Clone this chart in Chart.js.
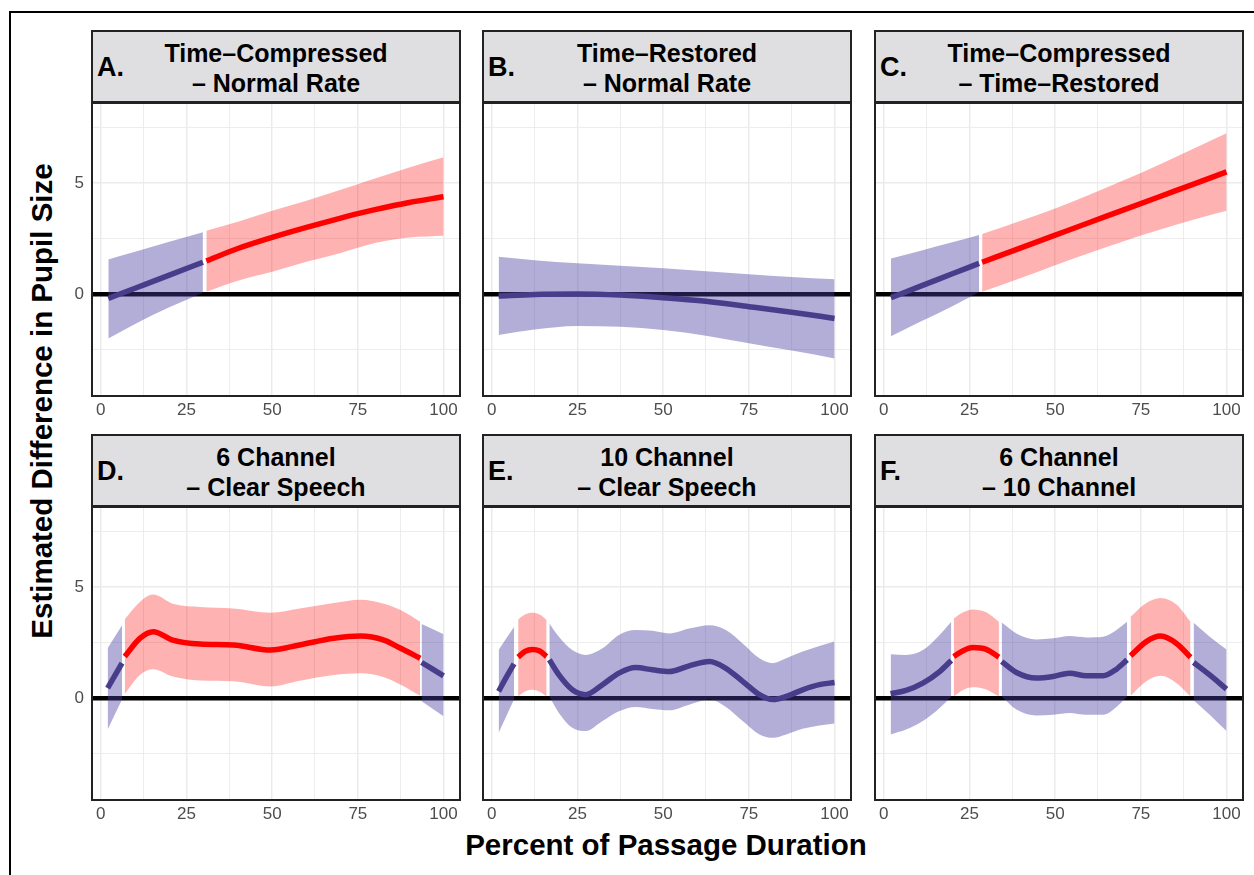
<!DOCTYPE html>
<html>
<head>
<meta charset="utf-8">
<title>Estimated Difference in Pupil Size</title>
<script src="https://cdn.jsdelivr.net/npm/chart.js@4.4.1/dist/chart.umd.min.js"></script>
<style>
  html, body { margin: 0; padding: 0; background: #fff; }
  body { width: 1254px; height: 875px; position: relative; overflow: hidden; font-family: "Liberation Sans", Arial, Helvetica, sans-serif; }
  #frame { position: absolute; left: 9px; top: 11px; width: 1300px; height: 900px; border-left: 2.5px solid #000; border-top: 2.5px solid #000; }
  .strip { position: absolute; width: 370px; height: 73px; background: #dfdfe1; border: 2px solid #222; box-sizing: border-box; }
  .strip .lbl { position: absolute; left: 4px; top: 22px; font-weight: bold; font-size: 27px; line-height: 27px; color: #000; }
  .strip .ttl { position: absolute; left: 0; right: 0; top: 6px; text-align: center; font-weight: bold; font-size: 25px; line-height: 30px; color: #000; }
  canvas { position: absolute; }
  #ytitle { position: absolute; left: 41px; top: 401px; transform: translate(-50%, -50%) rotate(-90deg); white-space: nowrap; font-weight: bold; font-size: 29.5px; line-height: 29px; }
  #xtitle { position: absolute; left: 666px; top: 830px; transform: translateX(-50%); white-space: nowrap; font-weight: bold; font-size: 29.5px; line-height: 30px; }
</style>
</head>
<body>
<div id="frame"></div>
<div id="ytitle">Estimated Difference in Pupil Size</div>
<div id="xtitle">Percent of Passage Duration</div>
<script>
// ---- data ----
const xTickLabels = [0, 25, 50, 75, 100];
const xGridSteps = [0, 12.5, 25, 37.5, 50, 62.5, 75, 87.5, 100];
const yTickLabels = [0, 5];
const yGridSteps = [-2.5, 0, 2.5, 5, 7.5];
const xRange = [-2.85, 105.1];
const yRange = [-4.64, 8.65];

const panelLetters = ["A.", "B.", "C.", "D.", "E.", "F."];
const panelTitles = [
  ["Time\u2013Compressed", "\u2013 Normal Rate"],
  ["Time\u2013Restored", "\u2013 Normal Rate"],
  ["Time\u2013Compressed", "\u2013 Time\u2013Restored"],
  ["6 Channel", "\u2013 Clear Speech"],
  ["10 Channel", "\u2013 Clear Speech"],
  ["6 Channel", "\u2013 10 Channel"]
];

// sig: 1 = interval excludes zero (red), 0 = not (blue)
const aX   = [2.2, 10, 20, 29.8, 30.8, 40, 50, 60, 70, 75, 80, 90, 100];
const aFit = [-0.2, 0.26, 0.85, 1.43, 1.49, 2.05, 2.55, 3.0, 3.42, 3.62, 3.8, 4.12, 4.38];
const aLo  = [-2.0, -1.35, -0.6, 0.06, 0.1, 0.6, 1.0, 1.45, 1.85, 2.08, 2.3, 2.55, 2.63];
const aHi  = [1.56, 1.9, 2.35, 2.78, 2.85, 3.25, 3.75, 4.2, 4.7, 4.95, 5.2, 5.7, 6.16];
const aSig = [0, 0, 0, 0, 1, 1, 1, 1, 1, 1, 1, 1, 1];

const bX   = [2, 12.5, 25, 37.5, 50, 62.5, 75, 87.5, 100];
const bFit = [-0.09, -0.02, 0, -0.05, -0.17, -0.33, -0.57, -0.82, -1.1];
const bLo  = [-1.85, -1.6, -1.44, -1.48, -1.62, -1.88, -2.22, -2.55, -2.9];
const bHi  = [1.68, 1.52, 1.38, 1.27, 1.16, 1.03, 0.89, 0.77, 0.66];
const bSig = [0, 0, 0, 0, 0, 0, 0, 0, 0];

const cX   = [2.1, 10, 20, 27.8, 28.7, 40, 50, 60, 70, 80, 90, 100];
const cFit = [-0.17, 0.31, 0.91, 1.38, 1.43, 2.08, 2.65, 3.22, 3.79, 4.36, 4.93, 5.5];
const cLo  = [-1.9, -1.3, -0.55, 0.08, 0.1, 0.72, 1.3, 1.85, 2.38, 2.87, 3.33, 3.75];
const cHi  = [1.6, 1.92, 2.33, 2.66, 2.7, 3.3, 3.85, 4.47, 5.12, 5.8, 6.52, 7.24];
const cSig = [0, 0, 0, 0, 1, 1, 1, 1, 1, 1, 1, 1];

const dX   = [2, 6.2, 7, 11.4, 15.3, 21, 29, 38.7, 49.5, 58, 68, 75.8, 82.6, 87.5, 93.2, 93.6, 100];
const dFit = [0.45, 1.57, 1.87, 2.69, 2.99, 2.61, 2.43, 2.39, 2.16, 2.39, 2.69, 2.79, 2.61, 2.24, 1.79, 1.6, 1.0];
const dLo  = [-1.42, -0.07, 0.18, 1.04, 1.3, 0.97, 0.79, 0.75, 0.52, 0.78, 1.04, 1.12, 0.94, 0.6, 0.1, -0.15, -0.82];
const dHi  = [2.24, 3.28, 3.55, 4.33, 4.66, 4.25, 4.1, 4.03, 3.84, 4.03, 4.28, 4.43, 4.25, 3.96, 3.43, 3.33, 2.87];
const dSig = [0, 0, 1, 1, 1, 1, 1, 1, 1, 1, 1, 1, 1, 1, 1, 0, 0];

const eX   = [2, 4.3, 6.5, 7.7, 9.7, 11.8, 14, 16, 16.8, 19.6, 23.5, 27.4, 32.3, 37.1, 42, 46.9, 51.8, 57.6, 63.5, 68.3, 73.2, 78.1, 82, 85.9, 90.7, 95.6, 100];
const eFit = [0.3, 0.95, 1.54, 1.84, 2.1, 2.19, 2.12, 1.87, 1.72, 1.04, 0.37, 0.15, 0.6, 1.12, 1.37, 1.27, 1.19, 1.45, 1.64, 1.34, 0.75, 0.15, -0.07, 0.07, 0.37, 0.6, 0.7];
const eLo  = [-1.57, -0.8, -0.07, 0.07, 0.29, 0.37, 0.28, 0.07, 0.07, -0.67, -1.34, -1.49, -1.04, -0.6, -0.4, -0.49, -0.55, -0.3, -0.07, -0.4, -1.04, -1.64, -1.79, -1.64, -1.39, -1.24, -1.15];
const eHi  = [2.16, 2.7, 3.2, 3.54, 3.76, 3.84, 3.76, 3.51, 3.36, 2.76, 2.16, 1.94, 2.24, 2.84, 3.06, 3.03, 2.91, 3.13, 3.28, 3.06, 2.46, 1.79, 1.57, 1.79, 2.09, 2.34, 2.54];
const eSig = [0, 0, 0, 1, 1, 1, 1, 1, 0, 0, 0, 0, 0, 0, 0, 0, 0, 0, 0, 0, 0, 0, 0, 0, 0, 0, 0];

const fX   = [2, 6.5, 11.4, 16.3, 19.7, 20.4, 23, 26, 29.9, 33.6, 34.4, 38.7, 44.5, 49.4, 54.2, 59.1, 64, 67.9, 71, 72, 76.6, 80.8, 85.4, 89.5, 90.4, 95.1, 100];
const fFit = [0.19, 0.34, 0.67, 1.19, 1.69, 1.87, 2.12, 2.27, 2.19, 1.84, 1.64, 1.15, 0.9, 0.97, 1.12, 1.0, 1.0, 1.3, 1.72, 1.9, 2.54, 2.79, 2.46, 1.84, 1.6, 1.04, 0.4];
const fLo  = [-1.64, -1.42, -1.04, -0.45, 0.07, 0.07, 0.35, 0.48, 0.38, 0.07, 0.07, -0.52, -0.79, -0.75, -0.67, -0.75, -0.75, -0.4, 0.07, 0.1, 0.75, 1.0, 0.67, 0.07, -0.1, -0.75, -1.49];
const fHi  = [1.97, 1.94, 2.16, 2.84, 3.43, 3.58, 3.85, 3.99, 3.86, 3.43, 3.4, 2.91, 2.64, 2.69, 2.79, 2.73, 2.76, 3.06, 3.43, 3.66, 4.28, 4.51, 4.21, 3.43, 3.39, 2.76, 2.19];
const fSig = [0, 0, 0, 0, 0, 1, 1, 1, 1, 1, 0, 0, 0, 0, 0, 0, 0, 0, 0, 1, 1, 1, 1, 1, 0, 0, 0];

(function(){
  const panels = [
    { x: aX, fit: aFit, lo: aLo, hi: aHi, sig: aSig },
    { x: bX, fit: bFit, lo: bLo, hi: bHi, sig: bSig },
    { x: cX, fit: cFit, lo: cLo, hi: cHi, sig: cSig },
    { x: dX, fit: dFit, lo: dLo, hi: dHi, sig: dSig },
    { x: eX, fit: eFit, lo: eLo, hi: eHi, sig: eSig },
    { x: fX, fit: fFit, lo: fLo, hi: fHi, sig: fSig }
  ];

  const colours = {
    0: { line: "#483d8b", band: "rgba(72,61,160,0.42)" },
    1: { line: "#ff0000", band: "rgba(255,0,0,0.30)" }
  };

  // layout
  const colLeft = [91, 482, 874];
  const stripTop = [30, 434];
  const plotW = 370, plotH = 295, stripH = 73;
  const yAxisW = 41, xAxisH = 30;

  Chart.defaults.font.family = "'Liberation Sans', Arial, Helvetica, sans-serif";

  // box around each panel
  const panelFrame = {
    id: "panelFrame",
    afterDraw(chart){
      const a = chart.chartArea, ctx = chart.ctx;
      ctx.save();
      ctx.strokeStyle = "#222";
      ctx.lineWidth = 2;
      ctx.strokeRect(a.left + 1, a.top + 1, a.right - a.left - 2, a.bottom - a.top - 2);
      ctx.restore();
    }
  };

  function splitSegments(p){
    const segs = [];
    let cur = null;
    p.x.forEach((x, i) => {
      if(!cur || cur.sig !== p.sig[i]){
        cur = { sig: p.sig[i], fit: [], lo: [], hi: [] };
        segs.push(cur);
      }
      cur.fit.push({ x: x, y: p.fit[i] });
      cur.lo.push({ x: x, y: p.lo[i] });
      cur.hi.push({ x: x, y: p.hi[i] });
    });
    return segs;
  }

  function buildDatasets(p){
    const ds = [];
    splitSegments(p).forEach(s => {
      const c = colours[s.sig];
      const common = { pointRadius: 0, cubicInterpolationMode: "monotone", borderCapStyle: "butt" };
      ds.push(Object.assign({ data: s.hi, fill: "+1", backgroundColor: c.band, borderColor: "transparent", borderWidth: 0, order: 2 }, common));
      ds.push(Object.assign({ data: s.lo, fill: false, borderColor: "transparent", borderWidth: 0, order: 2 }, common));
      ds.push(Object.assign({ data: s.fit, fill: false, borderColor: c.line, borderWidth: 5.5, order: 1 }, common));
    });
    return ds;
  }

  function gridColour(ctx){
    return (ctx.tick && ctx.tick.value === 0 && ctx.scale.axis === "y") ? "#000" : "#ebebeb";
  }

  // keep every panel's plot box the same size, no label overhang padding
  function noPad(axis){
    axis.paddingTop = 0; axis.paddingBottom = 0;
    axis.paddingLeft = 0; axis.paddingRight = 0;
  }

  function makePanel(i){
    const col = i % 3, row = Math.floor(i / 3);
    const showY = col === 0;

    const strip = document.createElement("div");
    strip.className = "strip";
    strip.style.left = colLeft[col] + "px";
    strip.style.top = stripTop[row] + "px";
    strip.innerHTML = `<span class="lbl">${panelLetters[i]}</span><div class="ttl">${panelTitles[i][0]}<br>${panelTitles[i][1]}</div>`;
    document.body.appendChild(strip);

    const cv = document.createElement("canvas");
    const w = plotW + (showY ? yAxisW : 0);
    const h = plotH + xAxisH;
    cv.width = w; cv.height = h;
    cv.style.width = w + "px"; cv.style.height = h + "px";
    cv.style.left = (colLeft[col] - (showY ? yAxisW : 0)) + "px";
    cv.style.top = (stripTop[row] + stripH - 1) + "px";
    document.body.appendChild(cv);

    new Chart(cv, {
      type: "line",
      data: { datasets: buildDatasets(panels[i]) },
      options: {
        responsive: false,
        animation: false,
        layout: { padding: 0 },
        plugins: { legend: { display: false }, tooltip: { enabled: false } },
        scales: {
          x: {
            type: "linear",
            min: xRange[0], max: xRange[1],
            afterBuildTicks: (axis) => { axis.ticks = xGridSteps.map(v => ({ value: v })); },
            afterFit: (axis) => { axis.height = xAxisH; noPad(axis); },
            border: { display: false },
            grid: {
              drawTicks: false,
              color: gridColour,
              lineWidth: (ctx) => (ctx.tick && ctx.tick.value % 25 === 0) ? 1.5 : 0.9
            },
            ticks: {
              autoSkip: false, maxRotation: 0, padding: 3,
              color: "#4d4d4d", font: { size: 17 },
              callback: (v) => xTickLabels.includes(v) ? String(v) : ""
            }
          },
          y: {
            type: "linear",
            min: yRange[0], max: yRange[1],
            afterBuildTicks: (axis) => { axis.ticks = yGridSteps.map(v => ({ value: v })); },
            afterFit: (axis) => { axis.width = showY ? yAxisW : 0; noPad(axis); },
            border: { display: false },
            grid: {
              drawTicks: false,
              color: gridColour,
              lineWidth: (ctx) => {
                if(!ctx.tick) return 1;
                if(ctx.tick.value === 0) return 4.5;
                return ctx.tick.value % 5 === 0 ? 1.5 : 0.9;
              }
            },
            ticks: {
              display: showY, padding: 7,
              color: "#4d4d4d", font: { size: 17 },
              callback: (v) => yTickLabels.includes(v) ? String(v) : ""
            }
          }
        }
      },
      plugins: [panelFrame]
    });
  }

  for(let i = 0; i < 6; i++) makePanel(i);
})();
</script>
</body>
</html>
